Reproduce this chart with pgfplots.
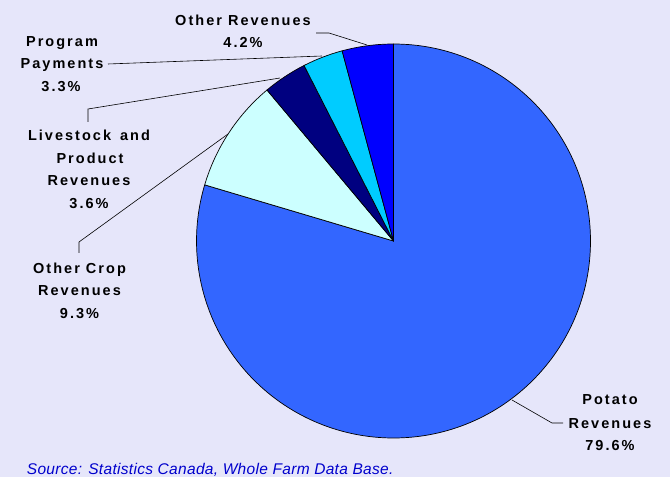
\documentclass[border=0pt]{standalone}
\usepackage{fontspec}
\setmainfont{Liberation Sans}
\newfontfamily\lblfont{Liberation Sans}[LetterSpace=14]
\newfontfamily\srcfont{Liberation Sans}[LetterSpace=2]
\usepackage{pgfplots}
\usepackage{pgfplotstable}
\pgfplotsset{compat=1.18}

\definecolor{bg}{RGB}{230,230,250}
\definecolor{potato}{RGB}{51,102,255}
\definecolor{othercrop}{RGB}{204,255,255}
\definecolor{livestock}{RGB}{0,0,128}
\definecolor{program}{RGB}{0,204,255}
\definecolor{otherrev}{RGB}{0,0,255}
\definecolor{srcblue}{RGB}{0,0,204}

% share of farm revenues, clockwise from 12 o'clock
\pgfplotstableread{
name      value colour
Potato    79.6  potato
OtherCrop 9.3   othercrop
Livestock 3.6   livestock
Program   3.3   program
OtherRev  4.2   otherrev
}\piedata

\newcommand\lbl[3]{\node[anchor=base, inner sep=0pt, font=\lblfont\bfseries\fontsize{14.5}{17}\selectfont] at (axis cs:#1,#2) {#3};}

\begin{document}
\begin{tikzpicture}
\begin{axis}[
  hide axis, scale only axis, clip=false,
  x=1pt, y=1pt,
  xmin=0, xmax=670, ymin=0, ymax=477,
]
  \fill[bg] (axis cs:0,0) rectangle (axis cs:670,477);

  \pgfplotstablegetrowsof{\piedata}
  \pgfmathtruncatemacro\nrows{\pgfplotsretval-1}
  \def\startang{90}
  \pgfplotsforeachungrouped \i in {0,...,\nrows}{%
    \pgfplotstablegetelem{\i}{value}\of\piedata \let\val\pgfplotsretval
    \pgfplotstablegetelem{\i}{colour}\of\piedata \let\col\pgfplotsretval
    \pgfmathsetmacro\endang{\startang-3.6*\val}
    \edef\wedge{\noexpand\filldraw[fill=\col, draw=black, line width=0.7pt, line join=round]
      (axis cs:393.5,236) -- ++(\startang:197pt)
      arc[start angle=\startang, end angle=\endang, radius=197pt] -- cycle;}
    \wedge
    \global\let\startang\endang
  }

  % leader lines
  \draw[line width=0.6pt] (axis cs:316,444) -- (axis cs:329,444) -- (axis cs:367,432);
  \draw[line width=0.6pt] (axis cs:108,413) -- (axis cs:322,421);
  \draw[line width=0.6pt] (axis cs:88,355) -- (axis cs:88,368) -- (axis cs:280,399);
  \draw[line width=0.6pt] (axis cs:79,224) -- (axis cs:79,235) -- (axis cs:228,343);
  \draw[line width=0.6pt] (axis cs:512,77) -- (axis cs:552,54) -- (axis cs:563,54);

  % labels
  \lbl{243}{451}{Other Revenues}
  \lbl{243}{429.3}{4.2\%}
  \lbl{62}{430.3}{Program}
  \lbl{62}{408}{Payments}
  \lbl{61}{385.3}{3.3\%}
  \lbl{89}{336.3}{Livestock\hspace{9pt}and}
  \lbl{90}{313}{Product}
  \lbl{89}{291}{Revenues}
  \lbl{89}{268}{3.6\%}
  \lbl{79.5}{203.7}{Other Crop}
  \lbl{79.5}{181}{Revenues}
  \lbl{79.5}{158.7}{9.3\%}
  \lbl{610}{72}{Potato}
  \lbl{610}{48.7}{Revenues}
  \lbl{610}{27}{79.6\%}

  \node[anchor=base west, inner sep=0pt, text=srcblue,
        font=\srcfont\itshape\fontsize{15.5}{18}\selectfont]
    at (axis cs:26.7,2.3) {Source: Statistics Canada, Whole Farm Data Base.};
\end{axis}
\end{tikzpicture}
\end{document}
